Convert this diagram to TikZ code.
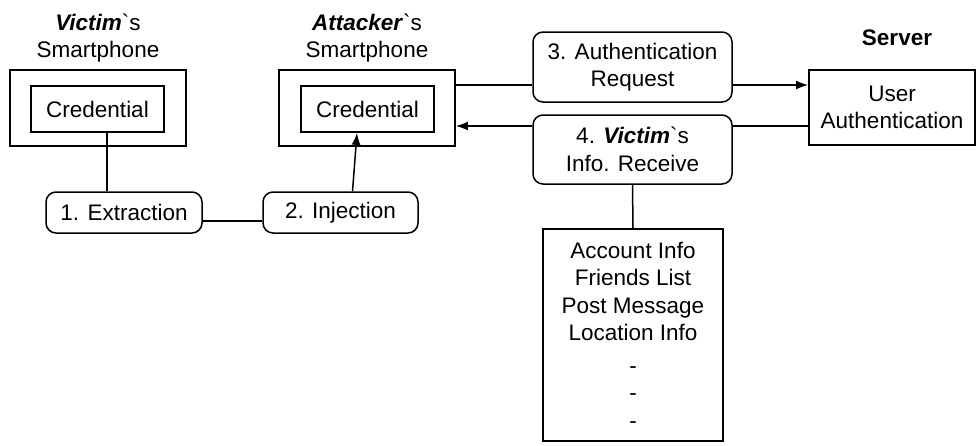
\documentclass[tikz,border=0pt]{standalone}
\usepackage{fontspec}
\setmainfont{Liberation Sans}[Ligatures=TeXOff]
\usetikzlibrary{arrows.meta}
\begin{document}
\begin{tikzpicture}[x=1pt,y=-1pt,
  every node/.style={font=\fontsize{22.5}{27.5}\selectfont, align=center, inner sep=0pt},
  phone/.style={draw, line width=1.8pt, minimum width=176pt, minimum height=76pt},
  cred/.style={draw, line width=1.8pt, minimum width=133pt, minimum height=46pt},
  stepbox/.style={draw, line width=1.5pt, rounded corners=10pt},
  plainbox/.style={draw, line width=1.8pt},
  link/.style={line width=1.5pt},
  tip/.style={line width=1.5pt, -{Latex[length=12pt,width=9pt]}}]
\useasboundingbox (0,0) rectangle (977,445);

% smartphones with their stored credentials
\node[phone] (vphone) at (98,108) {};
\node[cred] (vcred) at (97.5,109) {Credential};
\node at (98,38) {\textbf{\textit{Victim}}`s\\Smartphone};

\node[phone] (aphone) at (367,108) {};
\node[cred] (acred) at (367.5,109) {Credential};
\node at (367,38) {\textbf{\textit{Attacker}}`s\\Smartphone};

% attack steps
\node[stepbox, minimum width=156pt, minimum height=41pt] (ext) at (124,212.5) {1. Extraction};
\node[stepbox, minimum width=155pt, minimum height=41pt] (inj) at (340.5,212.5) {2. Injection};
\node[stepbox, minimum width=199pt, minimum height=70pt] (req) at (632.5,67) {3. Authentication\\Request};
\node[stepbox, minimum width=199pt, minimum height=69pt] (recv) at (632.5,149.5) {4. \textbf{\textit{Victim}}`s\\Info. Receive};

% server side
\node at (897,38) {\textbf{Server}};
\node[plainbox, minimum width=166pt, minimum height=75pt] (auth) at (892,107.5) {User\\Authentication};

% information obtained by the attacker
\node[plainbox, minimum width=180pt, minimum height=212pt] (list) at (633,335)
  {Account Info\\Friends List\\Post Message\\Location Info\\[5pt]-\\-\\-};

% connectors
\draw[link] ([xshift=9.5pt]vcred.south) -- ([xshift=9.5pt]vcred.south |- ext.north);
\draw[link] ([yshift=-8.5pt]ext.east) -- ([yshift=-8.5pt]inj.west);
\draw[tip] ([xshift=12pt]inj.north) -- ([xshift=-10.5pt]acred.south);

\draw[link] ([yshift=23pt]aphone.east) -- ([yshift=23pt]aphone.east -| req.west);
\draw[tip] ([yshift=23pt]aphone.east -| req.east) -- ([yshift=23pt]aphone.east -| auth.west);

\draw[link] ([yshift=-18.5pt]auth.west) -- ([yshift=-18.5pt]auth.west -| recv.east);
\draw[tip] ([yshift=-18.5pt]auth.west -| recv.west) -- ([yshift=-18.5pt]auth.west -| aphone.east);

\draw[link] (recv.south) -- (list.north);
\end{tikzpicture}
\end{document}
